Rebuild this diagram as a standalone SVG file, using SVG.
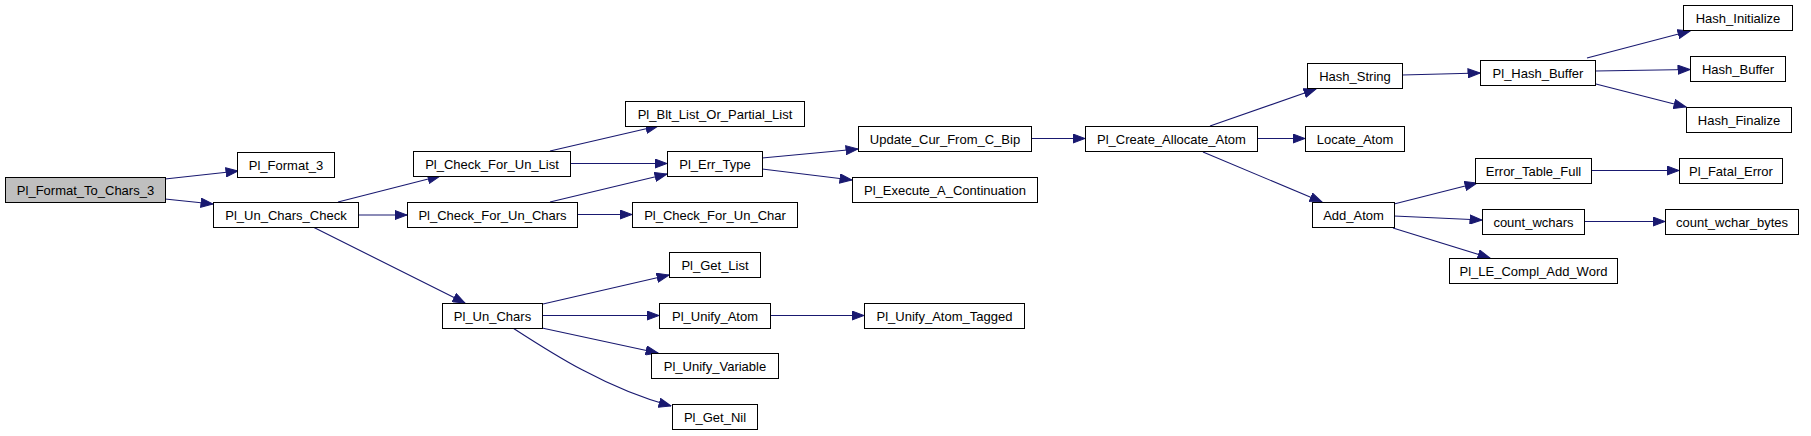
<svg xmlns="http://www.w3.org/2000/svg" width="1811" height="436" viewBox="0 0 1811 436">
<style>
.n rect{fill:#ffffff;stroke:#000000;stroke-width:1}
.n.root rect{fill:#bfbfbf}
.n text{font-family:"Liberation Sans",Arial,sans-serif;font-size:13px;fill:#000000;text-anchor:middle}
#edges path{fill:none;stroke:#191970;stroke-width:1.1;marker-end:url(#ah)}
</style>
<defs>
<marker id="ah" markerUnits="userSpaceOnUse" markerWidth="13" markerHeight="10" refX="12.5" refY="5" orient="auto">
<path d="M0.5,0.5 L12.5,5 L0.5,9.5 z" fill="#191970" stroke="#191970" stroke-width="1"/>
</marker>
</defs>
<rect width="1811" height="436" fill="#ffffff"/>
<g id="edges">
<path d="M165,179 L238,171"/>
<path d="M165,199 L213,204"/>
<path d="M338,202 L440,176"/>
<path d="M358,215 L407,215"/>
<path d="M313,227 L465,303"/>
<path d="M550,151 L658,126"/>
<path d="M570,163.5 L667,163.5"/>
<path d="M550,202 L667,174"/>
<path d="M577,214.5 L632,214.5"/>
<path d="M762,158 L858,149"/>
<path d="M762,169 L852,180"/>
<path d="M1031,138.5 L1085,138.5"/>
<path d="M1210,126 L1316,89"/>
<path d="M1257,138.5 L1305,138.5"/>
<path d="M1203,152 L1322,202"/>
<path d="M1402,75 L1480,73"/>
<path d="M1587,58 L1690,31"/>
<path d="M1595,71 L1690,69.5"/>
<path d="M1592,83 L1686,107"/>
<path d="M1394,204 L1477,183"/>
<path d="M1394,216 L1482,220"/>
<path d="M1393,228 L1490,258"/>
<path d="M1591,170.5 L1679,170.5"/>
<path d="M1584,221.5 L1665,221.5"/>
<path d="M543,304 L669,275"/>
<path d="M542,315.5 L659,315.5"/>
<path d="M542,328 L658,353"/>
<path d="M513,328 C550,352 605,388 671,406"/>
<path d="M770,315.5 L864,315.5"/>
</g>
<g id="n0" class="n root"><rect x="5.5" y="177.5" width="160" height="25"/><text x="85.5" y="194.5">Pl_Format_To_Chars_3</text></g>
<g id="n1" class="n"><rect x="237.5" y="152.5" width="97" height="25"/><text x="286" y="169.5">Pl_Format_3</text></g>
<g id="n2" class="n"><rect x="213.5" y="202.5" width="145" height="25"/><text x="286" y="219.5">Pl_Un_Chars_Check</text></g>
<g id="n3" class="n"><rect x="413.5" y="151.5" width="157" height="25"/><text x="492" y="168.5">Pl_Check_For_Un_List</text></g>
<g id="n4" class="n"><rect x="407.5" y="202.5" width="170" height="25"/><text x="492.5" y="219.5">Pl_Check_For_Un_Chars</text></g>
<g id="n5" class="n"><rect x="442.5" y="303.5" width="100" height="25"/><text x="492.5" y="320.5">Pl_Un_Chars</text></g>
<g id="n6" class="n"><rect x="625.5" y="101.5" width="179" height="25"/><text x="715" y="118.5">Pl_Blt_List_Or_Partial_List</text></g>
<g id="n7" class="n"><rect x="667.5" y="151.5" width="95" height="25"/><text x="715" y="168.5">Pl_Err_Type</text></g>
<g id="n8" class="n"><rect x="632.5" y="202.5" width="165" height="25"/><text x="715" y="219.5">Pl_Check_For_Un_Char</text></g>
<g id="n9" class="n"><rect x="669.5" y="252.5" width="91" height="25"/><text x="715" y="269.5">Pl_Get_List</text></g>
<g id="n10" class="n"><rect x="659.5" y="303.5" width="111" height="25"/><text x="715" y="320.5">Pl_Unify_Atom</text></g>
<g id="n11" class="n"><rect x="651.5" y="353.5" width="127" height="25"/><text x="715" y="370.5">Pl_Unify_Variable</text></g>
<g id="n12" class="n"><rect x="672.5" y="404.5" width="85" height="25"/><text x="715" y="421.5">Pl_Get_Nil</text></g>
<g id="n13" class="n"><rect x="858.5" y="126.5" width="173" height="25"/><text x="945" y="143.5">Update_Cur_From_C_Bip</text></g>
<g id="n14" class="n"><rect x="852.5" y="177.5" width="185" height="25"/><text x="945" y="194.5">Pl_Execute_A_Continuation</text></g>
<g id="n15" class="n"><rect x="864.5" y="303.5" width="160" height="25"/><text x="944.5" y="320.5">Pl_Unify_Atom_Tagged</text></g>
<g id="n16" class="n"><rect x="1085.5" y="126.5" width="172" height="25"/><text x="1171.5" y="143.5">Pl_Create_Allocate_Atom</text></g>
<g id="n17" class="n"><rect x="1307.5" y="63.5" width="95" height="25"/><text x="1355" y="80.5">Hash_String</text></g>
<g id="n18" class="n"><rect x="1305.5" y="126.5" width="99" height="25"/><text x="1355" y="143.5">Locate_Atom</text></g>
<g id="n19" class="n"><rect x="1312.5" y="202.5" width="82" height="25"/><text x="1353.5" y="219.5">Add_Atom</text></g>
<g id="n20" class="n"><rect x="1480.5" y="60.5" width="115" height="25"/><text x="1538" y="77.5">Pl_Hash_Buffer</text></g>
<g id="n21" class="n"><rect x="1475.5" y="158.5" width="116" height="25"/><text x="1533.5" y="175.5">Error_Table_Full</text></g>
<g id="n22" class="n"><rect x="1482.5" y="209.5" width="102" height="25"/><text x="1533.5" y="226.5">count_wchars</text></g>
<g id="n23" class="n"><rect x="1449.5" y="258.5" width="168" height="25"/><text x="1533.5" y="275.5">Pl_LE_Compl_Add_Word</text></g>
<g id="n24" class="n"><rect x="1683.5" y="5.5" width="109" height="25"/><text x="1738" y="22.5">Hash_Initialize</text></g>
<g id="n25" class="n"><rect x="1690.5" y="56.5" width="95" height="25"/><text x="1738" y="73.5">Hash_Buffer</text></g>
<g id="n26" class="n"><rect x="1686.5" y="107.5" width="105" height="25"/><text x="1739" y="124.5">Hash_Finalize</text></g>
<g id="n27" class="n"><rect x="1679.5" y="158.5" width="103" height="25"/><text x="1731" y="175.5">Pl_Fatal_Error</text></g>
<g id="n28" class="n"><rect x="1665.5" y="209.5" width="133" height="25"/><text x="1732" y="226.5">count_wchar_bytes</text></g>
</svg>
